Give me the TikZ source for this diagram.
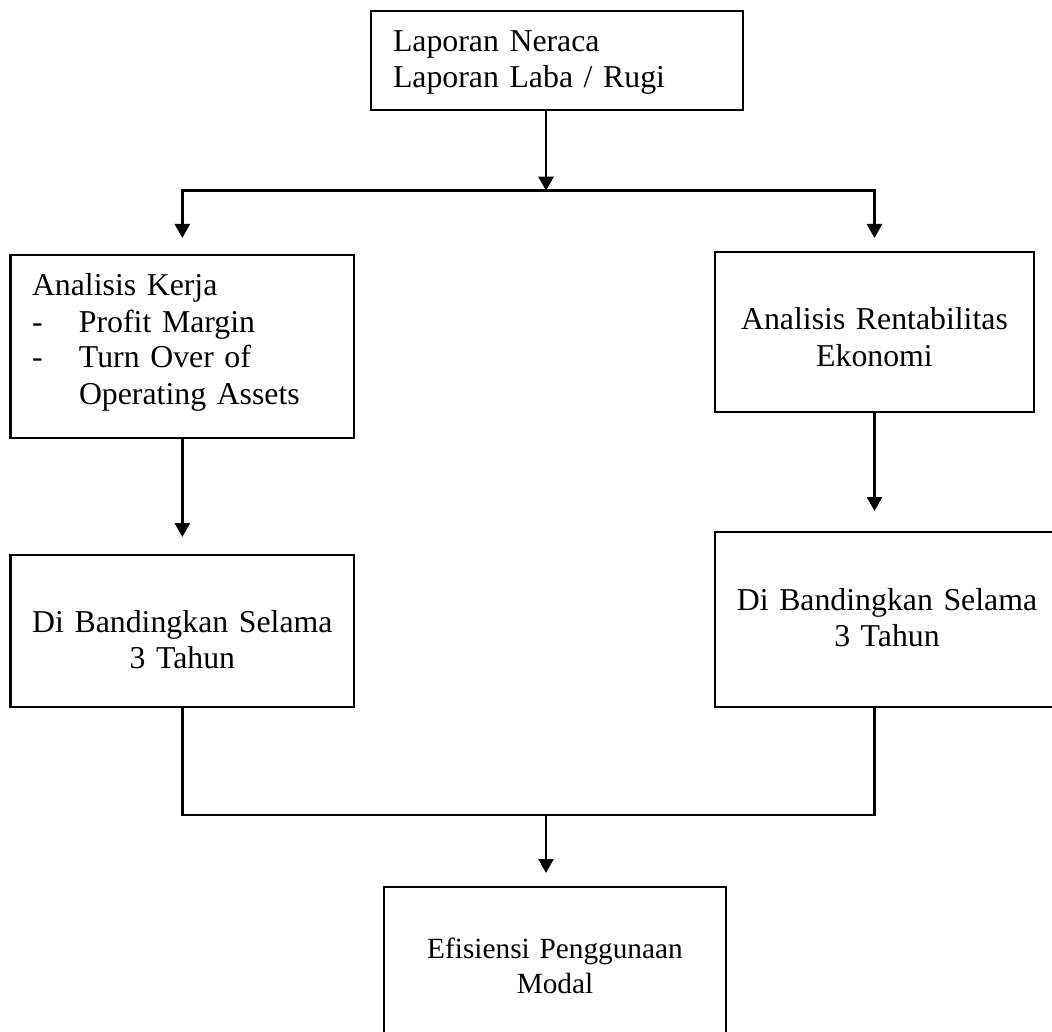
\documentclass[tikz,border=0pt]{standalone}
\usepackage{fontspec}
\setmainfont{Liberation Serif}[Ligatures=CommonOff]
\usetikzlibrary{arrows.meta,calc}
\begin{document}
\begin{tikzpicture}[x=1pt,y=-1pt,
  box/.style={draw, line width=2.6pt, inner sep=0pt, outer sep=0pt, anchor=north west,
    font=\fontsize{31.8}{36}\selectfont},
  arr/.style={line width=2.6pt, -{Triangle[width=15pt,length=14pt]}},
  conn/.style={line width=2.6pt, line cap=rect}]
\useasboundingbox (0,0) rectangle (1052,1032);
\fill[white] (0,0) rectangle (1052,1032);
\clip (0,0) rectangle (1052,1032);
% boxes
\node[box, inner xsep=22pt, text width=328pt, align=left, text height=41pt, text depth=58pt]
  (top) at (371,11) {Laporan Neraca\\Laporan Laba / Rugi};
\node[box, inner xsep=21.3pt, text width=300.7pt, align=left, text height=41pt, text depth=142pt]
  (a1) at (10.7,255) {Analisis Kerja\\\makebox[47pt][l]{-}Profit Margin\\\makebox[47pt][l]{-}Turn Over of\\\hspace*{47pt}Operating Assets};
\node[box, text width=319pt, align=center, text height=78pt, text depth=82pt]
  (b1) at (715,252) {Analisis Rentabilitas\\Ekonomi};
\node[box, text width=343.3pt, align=center, text height=77pt, text depth=75pt]
  (a2) at (10.7,555) {Di Bandingkan Selama\\3 Tahun};
\node[box, text width=344pt, align=center, text height=78pt, text depth=97pt]
  (b2) at (715,532) {Di Bandingkan Selama\\3 Tahun};
\node[box, text width=342pt, align=center, text height=71pt, text depth=102pt,
  font=\fontsize{29.3}{35}\selectfont]
  (bot) at (384,887) {Efisiensi Penggunaan\\Modal};
% junctions
\coordinate (jtop) at (546,190.7);
\coordinate (jbot) at (546,815);
% connectors
\draw[arr] (top.south -| jtop) -- (jtop);
\draw[conn] (a1.north |- jtop) -- (b1.north |- jtop);
\draw[arr, shorten >=17pt] (a1.north |- jtop) -- (a1.north);
\draw[arr, shorten >=14pt] (b1.north |- jtop) -- (b1.north);
\draw[arr, shorten >=18pt] (a1.south) -- (a2.north);
\draw[arr, shorten >=21pt] (b1.south) -- (b1.south |- b2.north);
\draw[conn] (a2.south) |- (jbot) -- (b1.south |- jbot) -- (b1.south |- b2.south);
\draw[arr, shorten >=14pt] (jbot) -- (jbot |- bot.north);
\end{tikzpicture}
\end{document}
